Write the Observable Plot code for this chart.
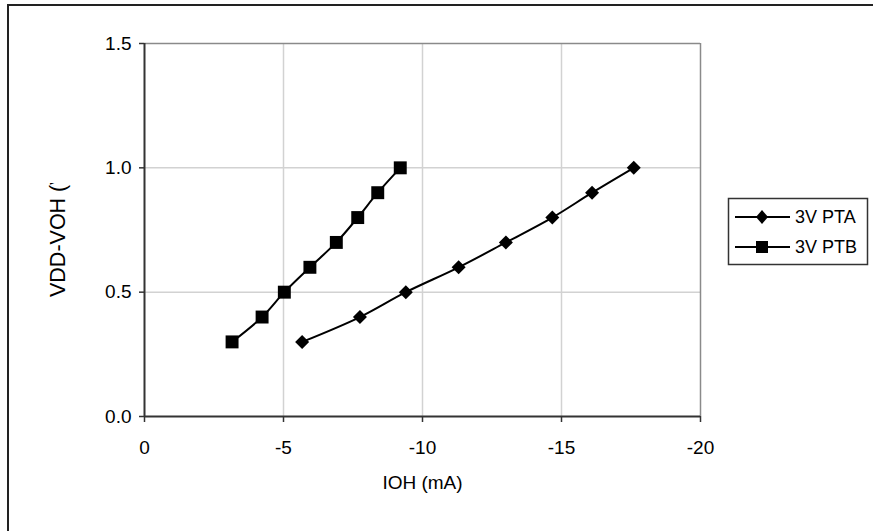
<!DOCTYPE html>
<html><head><meta charset="utf-8">
<script src="https://cdn.jsdelivr.net/npm/d3@7"></script>
<script src="https://cdn.jsdelivr.net/npm/@observablehq/plot@0.6"></script>
<style>
html,body{margin:0;padding:0;background:#fff;}
#wrap{position:relative;width:873px;height:531px;overflow:hidden;background:#fff;}
#frame{position:absolute;left:7px;top:4px;width:900px;height:560px;border-top:2px solid #222;border-left:2px solid #222;box-sizing:border-box;pointer-events:none;}
#chart{position:absolute;left:0;top:0;}
#legend{position:absolute;left:0;top:0;}
svg text{font-family:"Liberation Sans",Arial,sans-serif;}
</style></head><body>
<div id="wrap"><div id="chart"></div><div id="frame"></div><svg id="legend" width="873" height="531"></svg></div>
<script>
// ---- data ----
const seriesNames = ["3V PTA", "3V PTB"];
const voltage = [0.3, 0.4, 0.5, 0.6, 0.7, 0.8, 0.9, 1.0];
const ptaCurrent = [-5.67, -7.75, -9.4, -11.3, -13.0, -14.67, -16.1, -17.6];
const ptbCurrent = [-3.15, -4.23, -5.03, -5.95, -6.9, -7.67, -8.39, -9.2];
const xTicks = [0, -5, -10, -15, -20];
const yTicks = [0, 0.5, 1.0, 1.5];
const xTitle = "IOH (mA)";
const yTitle = "VDD-VOH (V)";

const pta = voltage.map((v, i) => ({series: seriesNames[0], x: ptaCurrent[i], y: v}));
const ptb = voltage.map((v, i) => ({series: seriesNames[1], x: ptbCurrent[i], y: v}));

const font = '"Liberation Sans", Arial, sans-serif';
const W = 873, H = 531;
const mL = 144, mR = 173, mT = 43, mB = 115;

const chart = Plot.plot({
  width: W, height: H,
  marginLeft: mL, marginRight: mR, marginTop: mT, marginBottom: mB,
  style: {fontFamily: font, background: "transparent", color: "#000"},
  x: {domain: [0, -20]},
  y: {domain: [0, 1.5]},
  marks: [
    Plot.gridX(xTicks.slice(1, -1), {stroke: "#d2d2d2", strokeOpacity: 1, strokeWidth: 1.5}),
    Plot.gridY(yTicks.slice(1, -1), {stroke: "#d2d2d2", strokeOpacity: 1, strokeWidth: 1.5}),
    Plot.ruleY([yTicks[yTicks.length - 1]], {stroke: "#8a8a8a", strokeWidth: 1.5}),
    Plot.ruleX([xTicks[xTicks.length - 1]], {stroke: "#8a8a8a", strokeWidth: 1.5}),
    Plot.ruleY([0], {stroke: "#333", strokeWidth: 2}),
    Plot.ruleX([0], {stroke: "#333", strokeWidth: 2}),
    Plot.axisX({ticks: xTicks, tickFormat: d => String(d), tickSize: 6, tickPadding: 18, fontSize: 19, label: null, stroke: "#333", strokeWidth: 1.5}),
    Plot.axisY({ticks: yTicks, tickFormat: d => d.toFixed(1), tickSize: 5, tickPadding: 8, fontSize: 19, label: null, stroke: "#333", strokeWidth: 1.5}),
    Plot.line(pta, {x: "x", y: "y", stroke: "#000", strokeWidth: 2, curve: "catmull-rom"}),
    Plot.line(ptb, {x: "x", y: "y", stroke: "#000", strokeWidth: 2, curve: "catmull-rom"}),
    Plot.dot(pta, {x: "x", y: "y", symbol: "diamond2", r: 6.3, fill: "#000", stroke: "none"}),
    Plot.dot(ptb, {x: "x", y: "y", symbol: "square", r: 7.3, fill: "#000", stroke: "none"}),
    Plot.text([xTitle], {frameAnchor: "bottom", dy: 66, fontSize: 19, fill: "#000", lineAnchor: "middle"})
  ]
});
document.getElementById("chart").appendChild(chart);

// y axis title (clipped at the top like the reference)
const svg = d3.select(chart);
svg.append("clipPath").attr("id", "ylabclip")
  .append("rect").attr("x", 0).attr("y", 183).attr("width", 140).attr("height", 300);
svg.append("g")
  .attr("clip-path", "url(#ylabclip)")
  .append("text")
  .attr("transform", "translate(57,297) rotate(-90)")
  .attr("text-anchor", "start")
  .attr("dy", "0.35em")
  .attr("font-size", 21.5)
  .attr("fill", "#000")
  .text(yTitle);

// legend
const lg = d3.select("#legend");
lg.append("rect").attr("x", 728.5).attr("y", 198.5).attr("width", 139).attr("height", 66)
  .attr("fill", "#fff").attr("stroke", "#333").attr("stroke-width", 1.5);
const entries = [{name: seriesNames[0], shape: "diamond", y: 217}, {name: seriesNames[1], shape: "square", y: 247}];
entries.forEach(e => {
  lg.append("line").attr("x1", 735).attr("x2", 790).attr("y1", e.y).attr("y2", e.y)
    .attr("stroke", "#000").attr("stroke-width", 2);
  if (e.shape === "diamond") {
    lg.append("path").attr("d", `M762,${e.y - 7}L768,${e.y}L762,${e.y + 7}L756,${e.y}Z`).attr("fill", "#000");
  } else {
    lg.append("rect").attr("x", 756).attr("y", e.y - 6).attr("width", 12).attr("height", 12).attr("fill", "#000");
  }
  lg.append("text").attr("x", 795).attr("y", e.y).attr("dy", "0.35em")
    .attr("font-size", 18).attr("fill", "#000").text(e.name);
});
</script>
</body></html>
